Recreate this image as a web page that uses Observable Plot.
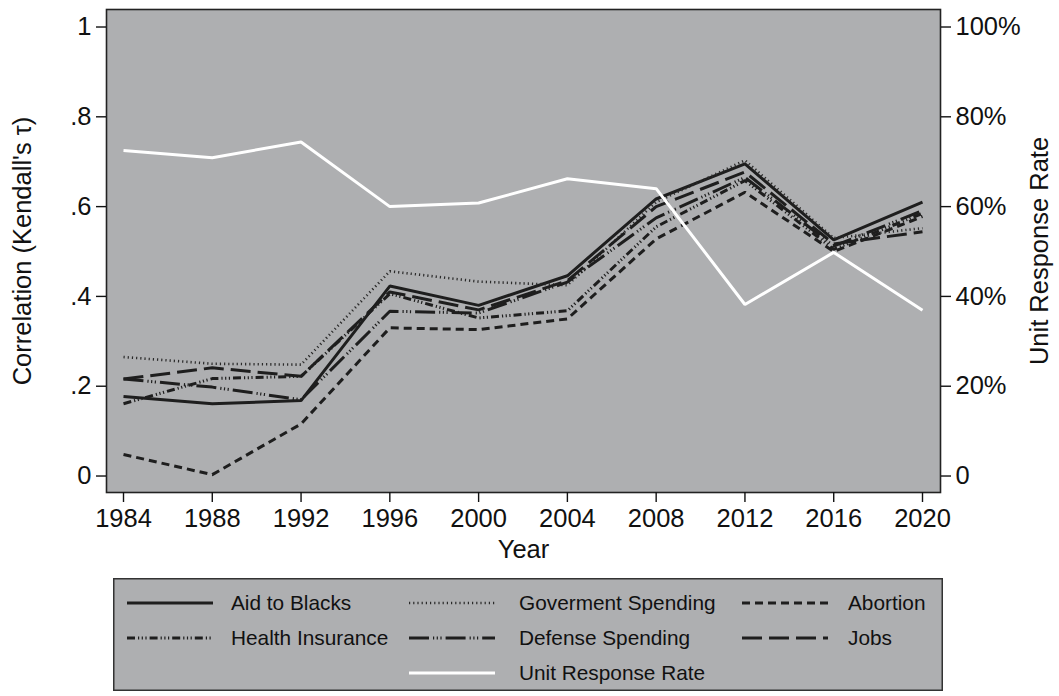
<!DOCTYPE html>
<html>
<head>
<meta charset="utf-8">
<script src="https://cdn.jsdelivr.net/npm/d3@7"></script>
<script src="https://cdn.jsdelivr.net/npm/@observablehq/plot@0.6"></script>
<style>
  html, body { margin: 0; padding: 0; background: #fff; }
  body { font-family: "Liberation Sans", Arial, Helvetica, sans-serif; }
  #legend { margin-top: 12px; margin-left: 113px; }
</style>
</head>
<body>
<div id="chart"></div>
<div id="legend"></div>
<script>
// ---- data ----
const years = [1984, 1988, 1992, 1996, 2000, 2004, 2008, 2012, 2016, 2020];
const aidToBlacks      = [0.177, 0.161, 0.168, 0.423, 0.380, 0.446, 0.617, 0.695, 0.526, 0.610];
const govSpending      = [0.265, 0.250, 0.248, 0.456, 0.433, 0.425, 0.610, 0.703, 0.530, 0.552];
const abortion         = [0.048, 0.003, 0.116, 0.330, 0.326, 0.350, 0.528, 0.632, 0.500, 0.578];
const healthInsurance  = [0.161, 0.217, 0.222, 0.406, 0.352, 0.368, 0.555, 0.658, 0.505, 0.585];
const defenseSpending  = [0.216, 0.198, 0.170, 0.367, 0.363, 0.432, 0.575, 0.665, 0.512, 0.591];
const jobs             = [0.216, 0.241, 0.222, 0.410, 0.370, 0.435, 0.600, 0.677, 0.517, 0.544];
const responseRatePct  = [72.5, 70.9, 74.4, 60.0, 60.8, 66.2, 64.0, 38.2, 49.8, 36.9];

const leftTicks = [0, 0.2, 0.4, 0.6, 0.8, 1];
const rightTicks = [0, 0.2, 0.4, 0.6, 0.8, 1];

const seriesNames = ["Aid to Blacks", "Goverment Spending", "Abortion",
                     "Health Insurance", "Defense Spending", "Jobs", "Unit Response Rate"];
const seriesValues = [aidToBlacks, govSpending, abortion, healthInsurance,
                      defenseSpending, jobs, responseRatePct.map(v => v / 100)];

// ---- styles (separate from data) ----
const styles = {
  "Aid to Blacks":      {stroke: "#1e1e1e", width: 3,   dash: null},
  "Goverment Spending": {stroke: "#2a2a2a", width: 2.6, dash: "1.2 3"},
  "Abortion":           {stroke: "#1e1e1e", width: 3,   dash: "8 5"},
  "Health Insurance":   {stroke: "#1e1e1e", width: 3,   dash: "8 3 1.2 2.5 1.2 2.5 1.2 3"},
  "Defense Spending":   {stroke: "#1e1e1e", width: 3,   dash: "20 4 1.2 2.5 1.2 2.5 1.2 4"},
  "Jobs":               {stroke: "#1e1e1e", width: 3,   dash: "20 7"},
  "Unit Response Rate": {stroke: "#ffffff", width: 3,   dash: null}
};

const tables = seriesNames.map((name, k) =>
  years.map((yr, i) => ({series: name, year: yr, value: seriesValues[k][i]})));

const bg = "#aeafb1";
const W = 1059, H = 566;
const FONT = '"Liberation Sans", Arial, Helvetica, sans-serif';
const FS = 25.5;

const lineMarks = tables.map((t, k) => {
  const s = styles[seriesNames[k]];
  return Plot.line(t, {
    x: "year", y: "value",
    stroke: s.stroke, strokeWidth: s.width,
    strokeDasharray: s.dash || undefined,
    strokeLinejoin: "miter", strokeLinecap: "butt"
  });
});

const chart = Plot.plot({
  width: W,
  height: H,
  marginLeft: 106,
  marginRight: 119,
  marginTop: 9,
  marginBottom: H - 492,
  style: {fontFamily: FONT, fontSize: FS + "px", color: "#111", background: "transparent"},
  x: {domain: [1983.234, 2020.811]},
  y: {domain: [-0.0367, 1.039]},
  marks: [
    Plot.frame({fill: bg}),
    ...lineMarks,
    Plot.frame({stroke: "#222", strokeWidth: 1.6}),
    Plot.axisX({
      ticks: years, tickFormat: d => String(d), tickSize: 10, tickPadding: 6,
      fontSize: FS, strokeWidth: 1.4,
      label: "Year", labelAnchor: "center", labelArrow: "none", labelOffset: 65
    }),
    Plot.axisY({
      anchor: "left", ticks: leftTicks,
      tickFormat: d => d === 0 ? "0" : d === 1 ? "1" : d.toFixed(1).replace(/^0/, ""),
      tickSize: 10, tickPadding: 5, fontSize: FS, strokeWidth: 1.4,
      label: "Correlation (Kendall's τ)", labelAnchor: "center", labelArrow: "none", labelOffset: 94
    }),
    Plot.axisY({
      anchor: "right", ticks: rightTicks,
      tickFormat: d => d === 0 ? "0" : Math.round(d * 100) + "%",
      tickSize: 10, tickPadding: 5, fontSize: FS, strokeWidth: 1.4,
      label: "Unit Response Rate", labelAnchor: "center", labelArrow: "none", labelOffset: 107
    })
  ]
});
document.getElementById("chart").appendChild(chart);

// ---- legend ----
const LW = 830, LH = 113;
const legend = d3.select("#legend").append("svg")
  .attr("width", LW).attr("height", LH)
  .style("display", "block");
legend.append("rect").attr("x", 0.75).attr("y", 0.75)
  .attr("width", LW - 1.5).attr("height", LH - 1.5)
  .attr("fill", bg).attr("stroke", "#333").attr("stroke-width", 1.5);

const colX = [14, 296, 629];      // swatch start per column
const rowY = [25, 60, 95];
const swatchLen = 86;
const textGaps = [104, 110, 106];
const legendOrder = [
  ["Aid to Blacks", 0, 0], ["Goverment Spending", 1, 0], ["Abortion", 2, 0],
  ["Health Insurance", 0, 1], ["Defense Spending", 1, 1], ["Jobs", 2, 1],
  ["Unit Response Rate", 1, 2]
];
legendOrder.forEach(([name, c, r]) => {
  const s = styles[name];
  const x0 = colX[c], y0 = rowY[r];
  legend.append("line")
    .attr("x1", x0).attr("x2", x0 + swatchLen)
    .attr("y1", y0).attr("y2", y0)
    .attr("stroke", s.stroke).attr("stroke-width", s.width)
    .attr("stroke-dasharray", s.dash);
  legend.append("text")
    .attr("x", x0 + textGaps[c]).attr("y", y0)
    .attr("dy", "0.35em")
    .attr("font-size", 20.8)
    .attr("font-family", FONT)
    .attr("fill", "#111")
    .text(name);
});
</script>
</body>
</html>
